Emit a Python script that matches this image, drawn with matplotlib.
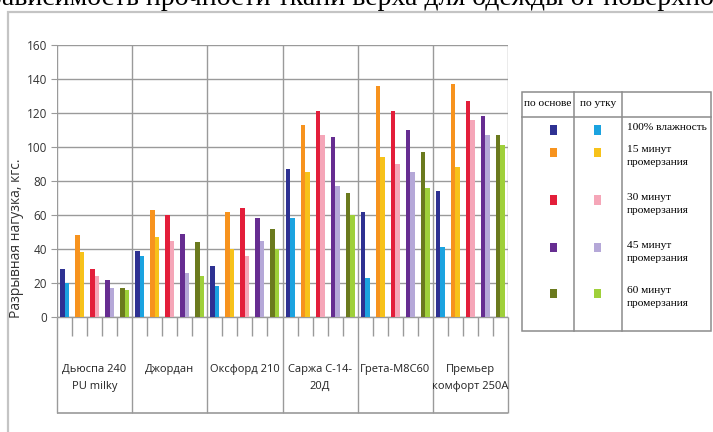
import matplotlib.pyplot as plt
from matplotlib.patches import Rectangle
from matplotlib.lines import Line2D

# --- данные ---
categories = ["Дьюспа 240\nPU milky", "Джордан", "Оксфорд 210",
              "Саржа С-14-\n20Д", "Грета-М8С60", "Премьер\nкомфорт 250А"]
conditions = ["100% влажность", "15 минут\nпромерзания", "30 минут\nпромерзания",
              "45 минут\nпромерзания", "60 минут\nпромерзания"]

# по основе (warp)
warp_100 = [28, 39, 30, 87, 62, 74]
warp_15 = [48, 63, 62, 113, 136, 137]
warp_30 = [28, 60, 64, 121, 121, 127]
warp_45 = [22, 49, 58, 106, 110, 118]
warp_60 = [17, 44, 52, 73, 97, 107]
# по утку (weft)
weft_100 = [20, 36, 18, 58, 23, 41]
weft_15 = [38, 47, 40, 85, 94, 88]
weft_30 = [24, 45, 36, 107, 90, 116]
weft_45 = [17, 26, 45, 77, 85, 107]
weft_60 = [16, 24, 40, 60, 76, 101]

warp = [warp_100, warp_15, warp_30, warp_45, warp_60]
weft = [weft_100, weft_15, weft_30, weft_45, weft_60]

warp_colors = ["#2E3192", "#F7931E", "#E31E3A", "#662D91", "#6B7A1E"]
weft_colors = ["#1BA3E0", "#F7C21A", "#F5A6B8", "#B5A8D8", "#9FD03A"]

W, H = 713, 432
SANS = "Open Sans"
SERIF = "Liberation Serif"
GRID = "#9A9A9A"


def fx(x):
    return x / W


def fy(y):
    return 1 - y / H


fig = plt.figure(figsize=(W / 100, H / 100), dpi=100)

# outer frame (cut at right and bottom)
fig.patches.append(Rectangle((fx(8), fy(440)), fx(720), fy(12) - fy(440),
                             transform=fig.transFigure, facecolor="white",
                             edgecolor="#C4C4C4", lw=1.6, zorder=-5))

# title, only lower part visible as in the screenshot
fig.text(fx(-12), fy(5), "Зависимость прочности ткани верха для одежды от поверхностной плотности",
         family=SERIF, fontsize=20, ha="left", va="baseline", color="black")

# plot area
top, bot, left, right = 45, 317, 57, 508
ax = fig.add_axes([fx(left), fy(bot), fx(right - left), fy(top) - fy(bot)])
ax.set_zorder(1)
ax.patch.set_alpha(0)
ax.set_xlim(0, 6)
ax.set_ylim(0, 160)
ax.set_yticks(range(0, 161, 20))
ax.set_yticklabels([str(v) for v in range(0, 161, 20)], family=SANS, fontsize=8.5, color="#333333")
ax.tick_params(axis="y", length=4, color=GRID, pad=3)
ax.set_xticks(range(0, 7))
ax.set_xticklabels([])
ax.tick_params(axis="x", length=0)
ax.grid(True, color=GRID, lw=1)
ax.set_axisbelow(True)
for s in ax.spines.values():
    s.set_visible(False)

bw = 0.06
for j in range(5):
    xs = [i + (j + 0.5) / 5 for i in range(6)]
    ax.bar([x - bw / 2 for x in xs], warp[j], width=bw, color=warp_colors[j], zorder=3)
    ax.bar([x + bw / 2 for x in xs], weft[j], width=bw, color=weft_colors[j], zorder=3)

# table under the axis
xt = ax.get_xaxis_transform()
hpx = bot - top
ax.vlines(range(0, 7), 0, -(413 - bot) / hpx, transform=xt, color=GRID, lw=1, clip_on=False)
ax.hlines(-(413 - bot) / hpx, 0, 6, transform=xt, color=GRID, lw=1.2, clip_on=False)
ax.hlines(0, 0, 6, transform=xt, color=GRID, lw=1, clip_on=False)
subs = [i + k / 5 for i in range(6) for k in range(1, 5)]
ax.vlines(subs, 0, -(336 - bot) / hpx, transform=xt, color=GRID, lw=1, clip_on=False)
for i, c in enumerate(categories):
    ax.text(i + 0.5, -(364 - bot) / hpx, c, transform=xt, ha="center", va="top",
            family=SANS, fontsize=8, linespacing=1.75, color="#222222")

fig.text(fx(17), fy(238), "Разрывная нагузка, кгс.", rotation=90, ha="center", va="center",
         family=SANS, fontsize=10, color="#333333")

# legend table
lx0, lx1, ly0, ly1 = 522, 711, 92, 331
fig.patches.append(Rectangle((fx(lx0), fy(ly1)), fx(lx1 - lx0), fy(ly0) - fy(ly1),
                             transform=fig.transFigure, facecolor="white",
                             edgecolor="#8C8C8C", lw=1.1, zorder=2))
for x in (574, 622):
    fig.lines.append(Line2D([fx(x), fx(x)], [fy(ly0), fy(ly1)], transform=fig.transFigure,
                            color="#8C8C8C", lw=1.1, zorder=3))
fig.lines.append(Line2D([fx(lx0), fx(lx1)], [fy(117), fy(117)], transform=fig.transFigure,
                        color="#8C8C8C", lw=1.1, zorder=3))
fig.text(fx(548), fy(104), "по основе", family=SERIF, fontsize=8.2, ha="center", va="center", zorder=4)
fig.text(fx(598), fy(104), "по утку", family=SERIF, fontsize=8.2, ha="center", va="center", zorder=4)

row_y = [130, 152, 200, 248, 293]
for j in range(5):
    for cx, col in ((553, warp_colors[j]), (597, weft_colors[j])):
        fig.patches.append(Rectangle((fx(cx - 3.5), fy(row_y[j] + 4.5)), fx(7), fy(0) - fy(9),
                                     transform=fig.transFigure, facecolor=col,
                                     edgecolor="none", zorder=4))
    fig.text(fx(627), fy(row_y[j] - 7), conditions[j], family=SERIF, fontsize=8.2,
             ha="left", va="top", linespacing=1.6, zorder=4)

fig.savefig("out.png", dpi=100)
